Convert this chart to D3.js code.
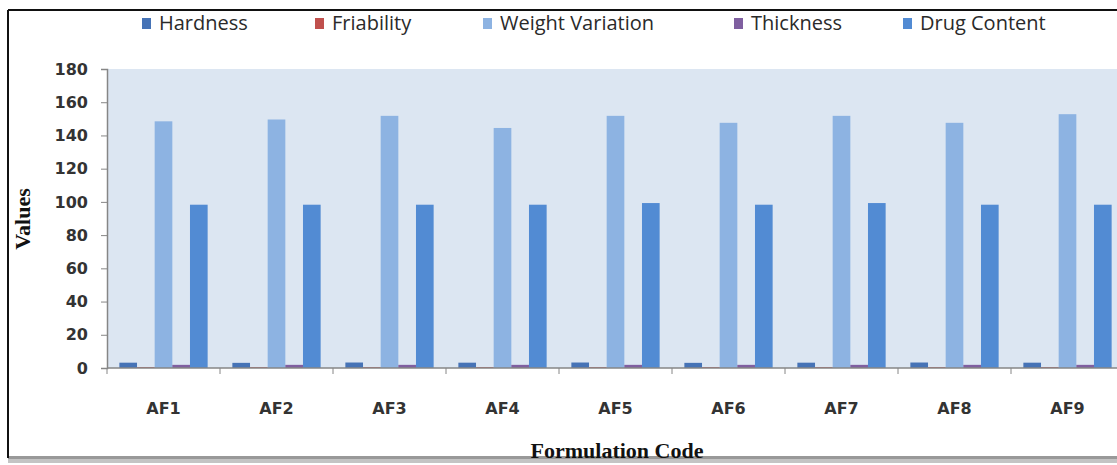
<!DOCTYPE html>
<html>
<head>
<meta charset="utf-8">
<script src="https://cdn.jsdelivr.net/npm/d3@7"></script>
<style>
  html, body { margin: 0; padding: 0; background: #fff; }
  svg { display: block; }
</style>
</head>
<body>
<div id="content"></div>
<script>
// data
const categories = ["AF1", "AF2", "AF3", "AF4", "AF5", "AF6", "AF7", "AF8", "AF9"];
const seriesNames = ["Hardness", "Friability", "Weight Variation", "Thickness", "Drug Content"];
const hardness = [3.2, 3.1, 3.3, 3.2, 3.3, 3.1, 3.2, 3.3, 3.2];
const friability = [0.5, 0.5, 0.5, 0.5, 0.5, 0.5, 0.5, 0.5, 0.5];
const weightVariation = [148.5, 149.6, 151.8, 144.5, 151.8, 147.6, 151.8, 147.6, 152.8];
const thickness = [1.9, 1.9, 1.9, 1.9, 1.9, 1.9, 1.9, 1.9, 1.9];
const drugContent = [98.3, 98.3, 98.3, 98.3, 99.3, 98.3, 99.3, 98.3, 98.3];
const yTicks = [0, 20, 40, 60, 80, 100, 120, 140, 160, 180];

const colors = ["#4673b6", "#c0504d", "#8db3e2", "#7f5fa0", "#528bd3"];
const seriesValues = [hardness, friability, weightVariation, thickness, drugContent];

const W = 1117, H = 465;
const svg = d3.select("#content").append("svg").attr("width", W).attr("height", H);

// outer frame, with the grey shadow along the bottom
svg.append("rect").attr("x", 8).attr("y", 456).attr("width", W - 8).attr("height", 7).attr("fill", "#c4c4c4");
svg.append("rect").attr("x", 8).attr("y", 456).attr("width", W - 8).attr("height", 3).attr("fill", "#999");
svg.append("line").attr("x1", 8).attr("x2", 8).attr("y1", 10).attr("y2", 458)
    .attr("stroke", "#111").attr("stroke-width", 2);
svg.append("line").attr("x1", 8).attr("x2", W).attr("y1", 10).attr("y2", 10)
    .attr("stroke", "#111").attr("stroke-width", 2);

const plotLeft = 107, plotTop = 69, plotBottom = 368;
const bandW = 113;

let x0 = d3.scaleBand().domain(categories).range([plotLeft, plotLeft + bandW * categories.length]).padding(0);
let x1 = d3.scaleBand().domain(seriesNames).range([0, bandW]).paddingInner(0).paddingOuter(0.7);
let y = d3.scaleLinear().domain([0, 180]).range([plotBottom, plotTop]);

// plot area
svg.append("rect").attr("x", plotLeft).attr("y", plotTop).attr("width", W - plotLeft).attr("height", plotBottom - plotTop)
    .attr("fill", "#dce6f2");

// bars
let groups = svg.append("g").selectAll("g")
    .data(categories)
    .enter().append("g")
    .attr("transform", d => `translate(${x0(d)},0)`);

groups.selectAll("rect")
    .data((c, i) => seriesNames.map((s, j) => ({ series: s, value: seriesValues[j][i], color: colors[j] })))
    .enter().append("rect")
    .attr("x", d => x1(d.series))
    .attr("width", x1.bandwidth())
    .attr("y", d => y(d.value))
    .attr("height", d => plotBottom - y(d.value))
    .attr("fill", d => d.color);

// y axis
let yAxis = svg.append("g")
    .attr("transform", `translate(${plotLeft},0)`)
    .call(d3.axisLeft(y).tickValues(yTicks).tickSize(6).tickPadding(13));
yAxis.select(".domain").attr("stroke", "#868686").attr("stroke-width", 1.5);
yAxis.selectAll(".tick line").attr("stroke", "#868686");
yAxis.selectAll("text")
    .attr("font-family", "DejaVu Sans, sans-serif")
    .attr("font-weight", "bold")
    .attr("font-size", 16)
    .attr("fill", "#333");

// x axis
let xg = svg.append("g").attr("transform", `translate(0,${plotBottom})`);
xg.append("line").attr("x1", plotLeft).attr("x2", W).attr("y1", 0).attr("y2", 0)
    .attr("stroke", "#868686").attr("stroke-width", 1.5);
xg.selectAll("line.tk")
    .data(categories)
    .enter().append("line")
    .attr("class", "tk")
    .attr("x1", d => x0(d)).attr("x2", d => x0(d))
    .attr("y1", 0).attr("y2", 6)
    .attr("stroke", "#868686");
xg.selectAll("text")
    .data(categories)
    .enter().append("text")
    .attr("x", d => x0(d) + x0.bandwidth() / 2)
    .attr("y", 46)
    .attr("text-anchor", "middle")
    .attr("font-family", "DejaVu Sans, sans-serif")
    .attr("font-weight", "bold")
    .attr("font-size", 16)
    .attr("fill", "#333")
    .text(d => d);

// axis titles
svg.append("text")
    .attr("transform", "translate(30,219) rotate(-90)")
    .attr("text-anchor", "middle")
    .attr("font-family", "Liberation Serif, serif")
    .attr("font-weight", "bold")
    .attr("font-size", 22)
    .attr("fill", "#111")
    .text("Values");

svg.append("text")
    .attr("x", 617).attr("y", 458)
    .attr("text-anchor", "middle")
    .attr("font-family", "Liberation Serif, serif")
    .attr("font-weight", "bold")
    .attr("font-size", 22)
    .attr("fill", "#111")
    .text("Formulation Code");

// legend
const legendX = [159, 332, 500, 751, 920];
let legend = svg.append("g").selectAll("g")
    .data(seriesNames)
    .enter().append("g")
    .attr("transform", (d, i) => `translate(${legendX[i]},0)`);
legend.append("rect")
    .attr("x", -17).attr("y", 18)
    .attr("width", 9).attr("height", 11)
    .attr("fill", (d, i) => colors[i]);
legend.append("text")
    .attr("x", 0).attr("y", 30)
    .attr("font-family", "Open Sans, sans-serif")
    .attr("font-size", 20)
    .attr("fill", "#2a2a2a")
    .text(d => d);
</script>
</body>
</html>
